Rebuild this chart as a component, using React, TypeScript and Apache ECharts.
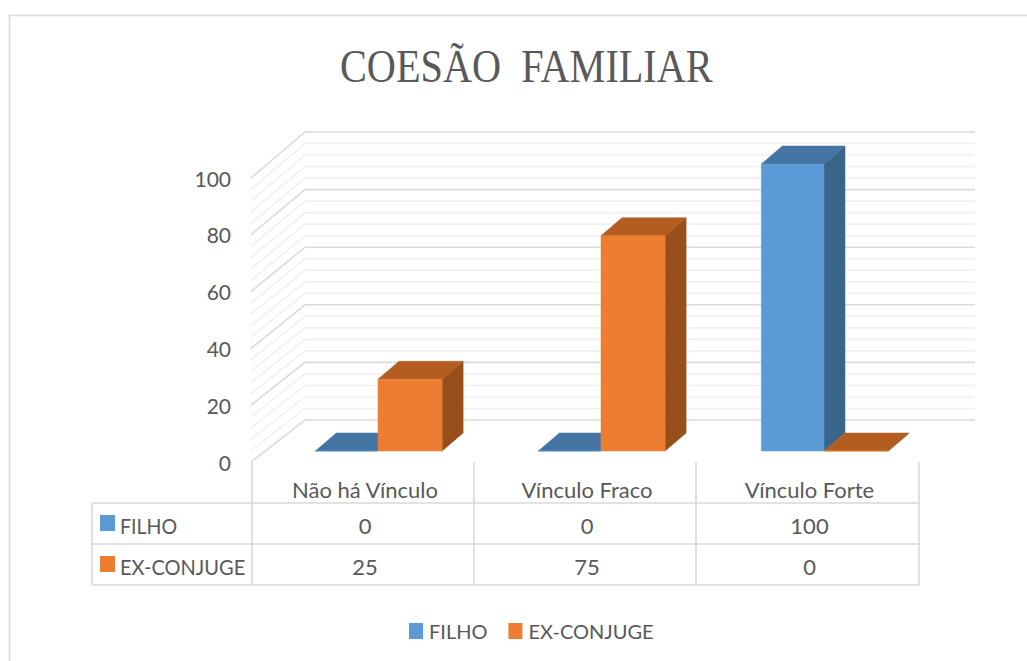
import React, { useEffect, useRef } from "react";
import * as echarts from "echarts";

const titleText = "COESÃO  FAMILIAR";
const categories = ["Não há Vínculo", "Vínculo Fraco", "Vínculo Forte"];
const filhoName = "FILHO";
const exName = "EX-CONJUGE";
const filhoValues = [0, 0, 100];
const exValues = [25, 75, 0];
const wallTicks = [0, 4, 8, 12, 16, 20, 24, 28, 32, 36, 40, 44, 48, 52, 56, 60, 64, 68, 72, 76, 80, 84, 88, 92, 96, 100];

const BLUE = "#5B9BD5";
const BLUE_TOP = "#4475A2";
const BLUE_SIDE = "#3A6489";
const ORANGE = "#ED7D31";
const ORANGE_TOP = "#B35E20";
const ORANGE_SIDE = "#97501B";
const TEXT = "#595959";
const LINE = "#D9D9D9";
const FONT = "Lato";

function box(colors: string[], side: -1 | 1) {
  return (params: any, api: any) => {
    const i = api.value(0);
    const v = api.value(1);
    const band = api.size([1, 0])[0];
    const w = band * (side < 0 ? 0.281 : 0.2875);
    const base = api.coord([i, 0]);
    const top = api.coord([i, v]);
    const x0 = side < 0 ? base[0] - w : base[0];
    const x1 = x0 + w;
    const dx = 21;
    const dy = -18;
    const poly = (pts: number[][], fill: string) => ({
      type: "polygon",
      shape: { points: pts },
      style: { fill, stroke: fill, lineWidth: 0.5 },
    });
    return {
      type: "group",
      children: [
        poly([[x1, base[1]], [x1 + dx, base[1] + dy], [x1 + dx, top[1] + dy], [x1, top[1]]], colors[2]),
        poly([[x0, top[1]], [x1, top[1]], [x1 + dx, top[1] + dy], [x0 + dx, top[1] + dy]], colors[1]),
        poly([[x0, top[1]], [x1, top[1]], [x1, base[1]], [x0, base[1]]], colors[0]),
      ],
    };
  };
}

function walls(params: any, api: any) {
  const v = api.value(1);
  const major = v % 20 === 0;
  const band = api.size([1, 0])[0];
  const p = api.coord([0, v]);
  const frontX = p[0] - band / 2;
  const dx = 53;
  const backTop = api.coord([0, 100]);
  const backBase = api.coord([0, 0]);
  // the back wall runs from y = base - 42 to y = top - 46
  const backY = backBase[1] - 42 + (backTop[1] - 46 - (backBase[1] - 42)) * (v / 100);
  const right = frontX + band * 3 + 56;
  return {
    type: "polyline",
    shape: { points: [[frontX - 1, p[1]], [frontX + dx, backY], [right, backY]] },
    style: { fill: "none", stroke: major ? "#DADADA" : "#F0F0F0", lineWidth: 1.6 },
    silent: true,
  };
}

function tableGraphics() {
  const xs = [92, 252, 474, 696, 919];
  const ys = [503, 544, 585];
  const out: any[] = [];
  const line = (x1: number, y1: number, x2: number, y2: number) =>
    out.push({ type: "line", shape: { x1, y1, x2, y2 }, style: { stroke: LINE, lineWidth: 1.6 }, silent: true });
  ys.forEach((y) => line(xs[0], y, xs[4], y));
  xs.forEach((x, i) => line(x, i === 0 ? ys[0] : 462, x, ys[2]));
  const text = (t: string, x: number, y: number, align: string, scale = 1) =>
    out.push({
      type: "text",
      x,
      y,
      scaleX: scale,
      silent: true,
      style: { text: t, fontFamily: FONT, fontSize: 22, fill: TEXT, align, verticalAlign: "middle" },
    });
  categories.forEach((c, i) => {
    const cx = (xs[i + 1] + xs[i + 2]) / 2 + 2;
    text(c, cx, 489, "center");
    text(String(filhoValues[i]), cx, 525.5, "center");
    text(String(exValues[i]), cx, 566, "center");
  });
  out.push({ type: "rect", shape: { x: 100, y: 515, width: 15, height: 16 }, style: { fill: BLUE }, silent: true });
  out.push({ type: "rect", shape: { x: 100, y: 556, width: 15, height: 16 }, style: { fill: ORANGE }, silent: true });
  text(filhoName, 120, 525.5, "left", 0.89);
  text(exName, 120, 566, "left", 0.91);
  return out;
}

export default function App() {
  const ref = useRef<HTMLDivElement>(null);
  useEffect(() => {
    const chart = echarts.init(ref.current!, undefined, { renderer: "svg" });
    chart.setOption({
      animation: false,
      backgroundColor: "#FFFFFF",
      grid: [
        { left: 252, top: 178, width: 667, height: 284, containLabel: false },
        { left: 266.5, top: 164, width: 669, height: 287, containLabel: false },
      ],
      xAxis: [
        { type: "category", gridIndex: 0, data: categories, show: false, boundaryGap: true },
        { type: "category", gridIndex: 1, data: categories, show: false, boundaryGap: true },
      ],
      yAxis: [
        {
          type: "value",
          gridIndex: 0,
          min: 0,
          max: 100,
          interval: 20,
          axisLine: { show: false },
          axisTick: { show: false },
          splitLine: { show: false },
          axisLabel: { color: TEXT, fontFamily: FONT, fontSize: 21, margin: 21, padding: [2, 0, 0, 0] },
        },
        { type: "value", gridIndex: 1, min: 0, max: 100, interval: 20, show: false, splitLine: { show: false } },
      ],
      legend: {
        data: [filhoName, exName],
        left: 409,
        top: 621,
        padding: 0,
        itemWidth: 14,
        itemHeight: 16,
        itemGap: 21,
        icon: "rect",
        selectedMode: false,
        textStyle: { color: TEXT, fontFamily: FONT, fontSize: 20, padding: [0, 0, 0, 1] },
      },
      graphic: [
        {
          type: "rect",
          shape: { x: 9.5, y: 15.5, width: 1040, height: 700 },
          style: { fill: "none", stroke: LINE, lineWidth: 1.6 },
          silent: true,
        },
        {
          type: "text",
          x: 340,
          y: 66,
          scaleX: 0.875,
          silent: true,
          style: { text: titleText, fontFamily: "Liberation Serif", fontSize: 46, fill: TEXT, align: "left", verticalAlign: "middle" },
        },
        ...tableGraphics(),
      ],
      series: [
        {
          type: "custom",
          name: "walls",
          xAxisIndex: 0,
          yAxisIndex: 0,
          silent: true,
          clip: false,
          renderItem: walls,
          data: wallTicks.map((v) => [0, v]),
          encode: { x: 0, y: 1 },
          z: 1,
        },
        {
          type: "custom",
          name: filhoName,
          xAxisIndex: 1,
          yAxisIndex: 1,
          clip: false,
          itemStyle: { color: BLUE },
          renderItem: box([BLUE, BLUE_TOP, BLUE_SIDE], -1),
          data: filhoValues.map((v, i) => [i, v]),
          encode: { x: 0, y: 1 },
          z: 2,
        },
        {
          type: "custom",
          name: exName,
          xAxisIndex: 1,
          yAxisIndex: 1,
          clip: false,
          itemStyle: { color: ORANGE },
          renderItem: box([ORANGE, ORANGE_TOP, ORANGE_SIDE], 1),
          data: exValues.map((v, i) => [i, v]),
          encode: { x: 0, y: 1 },
          z: 2,
        },
      ],
    });
    return () => chart.dispose();
  }, []);
  return <div ref={ref} style={{ position: "fixed", left: 0, top: 0, width: 1027, height: 661 }} />;
}
